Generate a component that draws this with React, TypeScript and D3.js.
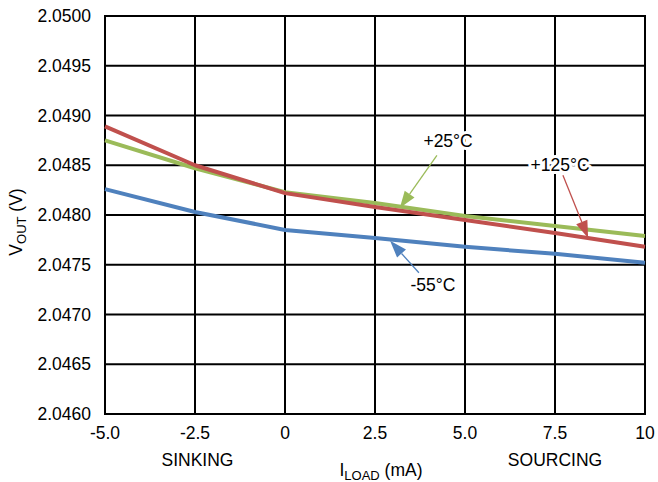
import React from "react";
import * as d3 from "d3";

const xValues = [-5, -2.5, 0, 2.5, 5, 7.5, 10];
const series125 = [2.04889, 2.0485, 2.04822, 2.04808, 2.04795, 2.04782, 2.04768];
const series25 = [2.04875, 2.04847, 2.04823, 2.04812, 2.04799, 2.04789, 2.04779];
const seriesM55 = [2.04826, 2.04803, 2.04785, 2.04777, 2.04768, 2.04761, 2.04752];
const xTicks = [-5, -2.5, 0, 2.5, 5, 7.5, 10];
const xTickLabels = ["-5.0", "-2.5", "0", "2.5", "5.0", "7.5", "10"];
const yTicks = [2.046, 2.0465, 2.047, 2.0475, 2.048, 2.0485, 2.049, 2.0495, 2.05];

const annotations = [
  { label: "+25°C", color: "#9BBB59", tx: 4.53, ty: 2.04874, ax: 4.22, ay: 2.0486, bx: 3.19, by: 2.04807 },
  { label: "+125°C", color: "#C0504D", tx: 7.64, ty: 2.0485, ax: 7.72, ay: 2.0484, bx: 8.42, by: 2.04777 },
  { label: "-55°C", color: "#4F81BD", tx: 4.11, ty: 2.0473, ax: 3.72, ay: 2.04742, bx: 2.92, by: 2.04774 },
];

const W = 658;
const H = 482;
const left = 105;
const right = 645;
const top = 16;
const bottom = 414;
const FONT = "'Liberation Sans', Arial, sans-serif";
const FS = 17.5;

export default function App() {
  const x = d3.scaleLinear().domain([-5, 10]).range([left, right]);
  const y = d3.scaleLinear().domain([2.046, 2.05]).range([bottom, top]);
  const line = d3
    .line<number>()
    .x((_, i) => x(xValues[i]))
    .y((d) => y(d));

  const lines = [
    { data: seriesM55, color: "#4F81BD" },
    { data: series25, color: "#9BBB59" },
    { data: series125, color: "#C0504D" },
  ];

  return (
    <svg
      width={W}
      height={H}
      style={{ position: "absolute", left: 0, top: 0, background: "#fff" }}
      fontFamily={FONT}
    >
      <rect x={0} y={0} width={W} height={H} fill="#fff" />
      {/* gridlines */}
      {yTicks.map((t) => (
        <line key={"gy" + t} x1={left} x2={right} y1={y(t)} y2={y(t)} stroke="#000" strokeWidth={2} />
      ))}
      {xTicks.map((t) => (
        <line key={"gx" + t} x1={x(t)} x2={x(t)} y1={top} y2={bottom} stroke="#000" strokeWidth={2} />
      ))}
      <rect x={left} y={top} width={right - left} height={bottom - top} fill="none" stroke="#000" strokeWidth={2} />

      {/* series */}
      {lines.map((l, i) => (
        <path key={i} d={line(l.data) || ""} fill="none" stroke={l.color} strokeWidth={4} strokeLinejoin="round" />
      ))}

      {/* y tick labels */}
      {yTicks.map((t) => (
        <text key={"ly" + t} x={91} y={y(t) + 6} textAnchor="end" fontSize={FS} fill="#000">
          {t.toFixed(4)}
        </text>
      ))}
      {/* x tick labels */}
      {xTicks.map((t, i) => (
        <text key={"lx" + t} x={x(t)} y={439} textAnchor="middle" fontSize={FS} fill="#000">
          {xTickLabels[i]}
        </text>
      ))}

      {/* annotations */}
      {annotations.map((a) => {
        const x1 = x(a.ax), y1 = y(a.ay), x2 = x(a.bx), y2 = y(a.by);
        const ang = Math.atan2(y2 - y1, x2 - x1);
        const len = 17, hw = 6;
        const bxp = x2 - len * Math.cos(ang), byp = y2 - len * Math.sin(ang);
        const px = -Math.sin(ang) * hw, py = Math.cos(ang) * hw;
        const pts = `${x2},${y2} ${bxp + px},${byp + py} ${bxp - px},${byp - py}`;
        return (
          <g key={a.label}>
            <text
              x={x(a.tx)}
              y={y(a.ty) + 6}
              textAnchor="middle"
              fontSize={FS}
              fill="#000"
              stroke="#fff"
              strokeWidth={6}
              paintOrder="stroke"
              strokeLinejoin="round"
            >
              {a.label}
            </text>
            <line x1={x1} y1={y1} x2={bxp} y2={byp} stroke={a.color} strokeWidth={1.3} />
            <polygon points={pts} fill={a.color} />
          </g>
        );
      })}

      {/* axis titles */}
      <text x={197.5} y={466} textAnchor="middle" fontSize={FS} fill="#000">SINKING</text>
      <text x={555} y={466} textAnchor="middle" fontSize={FS} fill="#000">SOURCING</text>
      <text x={381} y={476} textAnchor="middle" fontSize={FS} fill="#000">
        I<tspan fontSize={13} dy={4}>LOAD</tspan>
        <tspan dy={-4}> (mA)</tspan>
      </text>
      <text transform="translate(22,222) rotate(-90)" textAnchor="middle" fontSize={FS} fill="#000">
        V<tspan fontSize={13} dy={4}>OUT</tspan>
        <tspan dy={-4}> (V)</tspan>
      </text>
    </svg>
  );
}
